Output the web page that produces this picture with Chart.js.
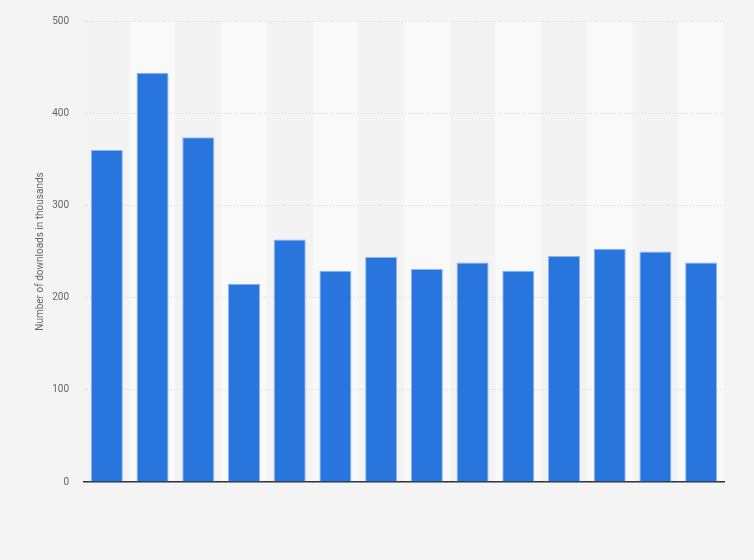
<!DOCTYPE html>
<html>
<head>
<meta charset="utf-8">
<script src="https://cdn.jsdelivr.net/npm/chart.js@4/dist/chart.umd.min.js"></script>
<style>
  html, body { margin: 0; padding: 0; background: #f4f4f4; }
  #wrap { width: 754px; height: 560px; position: relative; }
</style>
</head>
<body>
<div id="wrap"><canvas id="downloads-chart"></canvas></div>
<script>
// Chart data
var categories = ["1", "2", "3", "4", "5", "6", "7", "8", "9", "10", "11", "12", "13", "14"];
var downloads = [360, 444, 374, 215, 263, 229, 244, 231, 238, 229, 245, 253, 250, 238];
var yTicks = [0, 100, 200, 300, 400, 500];

// Alternating column bands behind the bars
var bandPlugin = {
    id: "bands",
    beforeDraw: function(chart) {
        var ctx = chart.ctx, area = chart.chartArea, x = chart.scales.x;
        ctx.save();
        for (var i = 0; i < categories.length; i++) {
            var l = i === 0 ? area.left : (x.getPixelForValue(i - 1) + x.getPixelForValue(i)) / 2;
            var r = i === categories.length - 1 ? area.right : (x.getPixelForValue(i) + x.getPixelForValue(i + 1)) / 2;
            ctx.fillStyle = i % 2 === 1 ? "#f9f9f9" : "#f3f3f3";
            ctx.fillRect(l, area.top, r - l, area.bottom - area.top);
        }
        ctx.restore();
    }
};

var ctx = document.getElementById("downloads-chart");

var chartData = {
    labels: categories,
    datasets: [{
        label: "Number of downloads in thousands",
        data: downloads,
        backgroundColor: "#2876dd",
        borderColor: "#8fb5ec",
        borderWidth: { top: 1, left: 1, right: 1, bottom: 0 },
        barPercentage: 0.7,
        categoryPercentage: 1.0
    }]
};

var chartOptions = {
    responsive: true,
    maintainAspectRatio: false,
    animation: false,
    layout: { padding: { left: 34, right: 30, top: 20, bottom: 78 } },
    plugins: { legend: { display: false }, tooltip: { enabled: false } },
    scales: {
        x: {
            grid: { display: false, drawTicks: false },
            border: { display: true, color: "#333333", width: 1.5 },
            ticks: { display: false }
        },
        y: {
            min: 0,
            max: 500,
            afterBuildTicks: function(scale) {
                scale.ticks = yTicks.map(function(v) { return { value: v }; });
            },
            afterFit: function(scale) { scale.width = 50; },
            grid: { color: "#d6d6d6", drawTicks: false, lineWidth: 1 },
            border: { display: false, dash: [1, 2] },
            ticks: {
                padding: 15,
                color: "#666666",
                font: { family: "Roboto", size: 10 }
            },
            title: {
                display: true,
                text: "Number of downloads in thousands",
                color: "#666666",
                font: { family: "Roboto", size: 10 },
                padding: { top: 0, bottom: 4 }
            }
        }
    }
};

var config = {
    type: "bar",
    data: chartData,
    options: chartOptions,
    plugins: [bandPlugin]
};

var downloadsChart = new Chart(ctx, config);
</script>
</body>
</html>
